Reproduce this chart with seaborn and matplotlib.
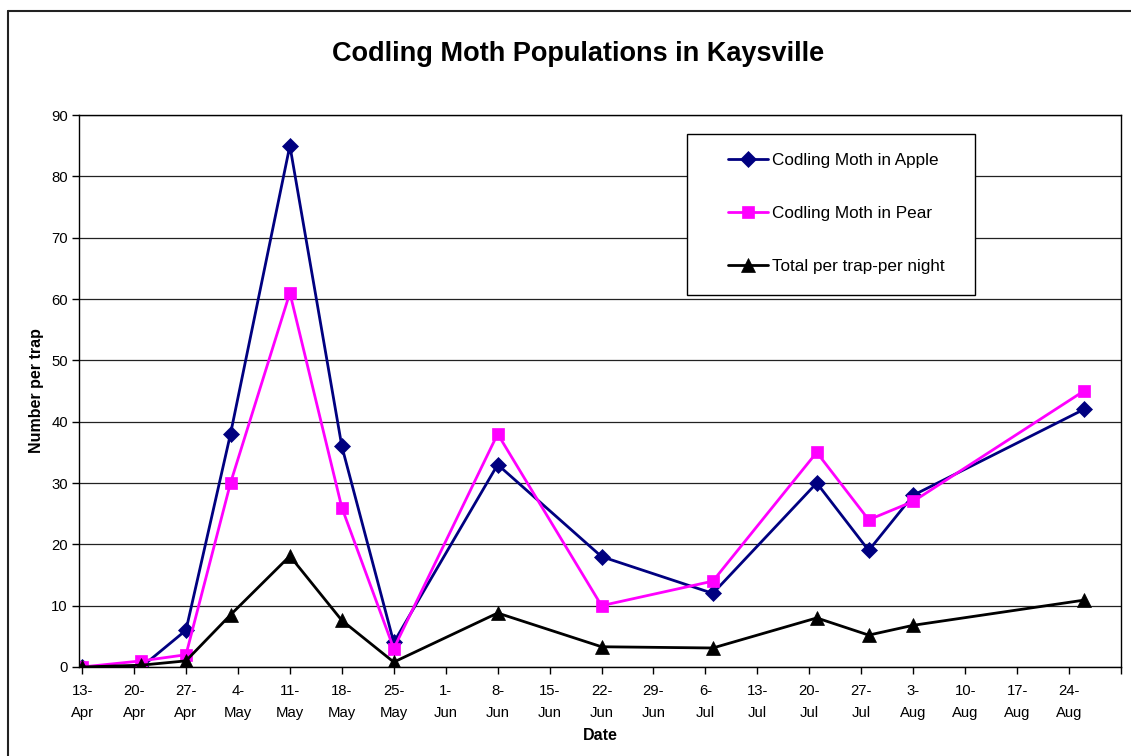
import matplotlib
matplotlib.use("Agg")
import matplotlib.pyplot as plt
from matplotlib.lines import Line2D
from matplotlib.patches import Rectangle
import seaborn as sns
import pandas as pd

# ---- data ----
dates = ["2004-04-13", "2004-04-21", "2004-04-27", "2004-05-03", "2004-05-11",
         "2004-05-18", "2004-05-25", "2004-06-08", "2004-06-22", "2004-07-07",
         "2004-07-21", "2004-07-28", "2004-08-03", "2004-08-26"]
apple = [0, 0, 6, 38, 85, 36, 4, 33, 18, 12, 30, 19, 28, 42]
pear = [0, 1, 2, 30, 61, 26, 3, 38, 10, 14, 35, 24, 27, 45]
total = [0, 0.3, 1, 8.5, 18.1, 7.6, 0.8, 8.8, 3.3, 3.1, 8.0, 5.2, 6.8, 10.9]
series_names = ["Codling Moth in Apple", "Codling Moth in Pear", "Total per trap-per night"]
tick_start, tick_end = "2004-04-13", "2004-08-31"
y_ticks = list(range(0, 100, 10))

sns.set_theme(style="white")
plt.rcParams['font.family'] = ['Liberation Sans', 'DejaVu Sans']
plt.rcParams['text.color'] = 'black'
plt.rcParams['xtick.color'] = 'black'
plt.rcParams['ytick.color'] = 'black'
plt.rcParams['axes.labelcolor'] = 'black'

df = pd.DataFrame({"Date": pd.to_datetime(dates), series_names[0]: apple,
                   series_names[1]: pear, series_names[2]: total})

W, H = 1131, 756
fig = plt.figure(figsize=(W/100, H/100), dpi=100)
L, R, T, B = 79, 1121, 115, 667
ax = fig.add_axes([L/W, 1-B/H, (R-L)/W, (B-T)/H])

styles = [("#000080", "D", 8.5), ("#FF00FF", "s", 9), ("#000000", "^", 10)]
for name, (col, mk, ms) in zip(series_names, styles):
    sns.lineplot(data=df, x="Date", y=name, ax=ax, color=col, marker=mk,
                 markersize=ms, markeredgecolor=col, markeredgewidth=0.5,
                 linewidth=2, label=name)

ticks = pd.date_range(tick_start, tick_end, freq="7D")
ax.set_xticks(ticks)
labels = [f"{d.day}-\n{d.strftime('%b')}" for d in ticks]
labels[-1] = ""
ax.set_xticklabels(labels, fontsize=10.7, linespacing=1.78)
ax.set_xlim(pd.Timestamp(tick_start) - pd.Timedelta(hours=10), pd.Timestamp(tick_end))
ax.set_ylim(0, 90)
ax.set_yticks(y_ticks)
ax.set_yticklabels([str(v) for v in y_ticks], fontsize=10.7)

ax.yaxis.grid(True, color="#222222", linewidth=0.9)
ax.set_axisbelow(True)
for s in ax.spines.values():
    s.set_color("black")
    s.set_linewidth(1.0)
ax.tick_params(axis="both", which="major", direction="out", length=5, width=1,
               color="black", bottom=True, left=True, pad=3)
ax.tick_params(axis="x", pad=7)

ax.set_xlabel("Date", fontsize=11.5, fontweight="bold")
ax.xaxis.set_label_coords(0.5, (B-728)/(B-T))
ax.set_ylabel("Number per trap", fontsize=11.5, fontweight="bold")
ax.yaxis.set_label_coords((44-L)/(R-L), 0.5)
fig.text(578/W, 1-54/H, "Codling Moth Populations in Kaysville",
         ha="center", va="center", fontsize=19.5, fontweight="bold")

leg = ax.legend(loc="upper left", bbox_to_anchor=((728-L)/(R-L), (B-153)/(B-T)),
                fontsize=12.3, frameon=False, labelspacing=2.22, borderpad=0,
                handlelength=2.35, handletextpad=0.2, borderaxespad=0)
ax.add_patch(Rectangle(((687-L)/(R-L), (B-295)/(B-T)), 288/(R-L), 161/(B-T),
                       transform=ax.transAxes, facecolor="white", edgecolor="black",
                       linewidth=1.0, zorder=4.5))
leg.set_zorder(5)

# outer chart border (left & top visible)
fig.add_artist(Line2D([8/W, 8/W], [0, 1-11/H], transform=fig.transFigure,
                      color="#222222", linewidth=1.5))
fig.add_artist(Line2D([8/W, 1], [1-11/H, 1-11/H], transform=fig.transFigure,
                      color="#222222", linewidth=1.5))

fig.savefig("out.png", dpi=100)
